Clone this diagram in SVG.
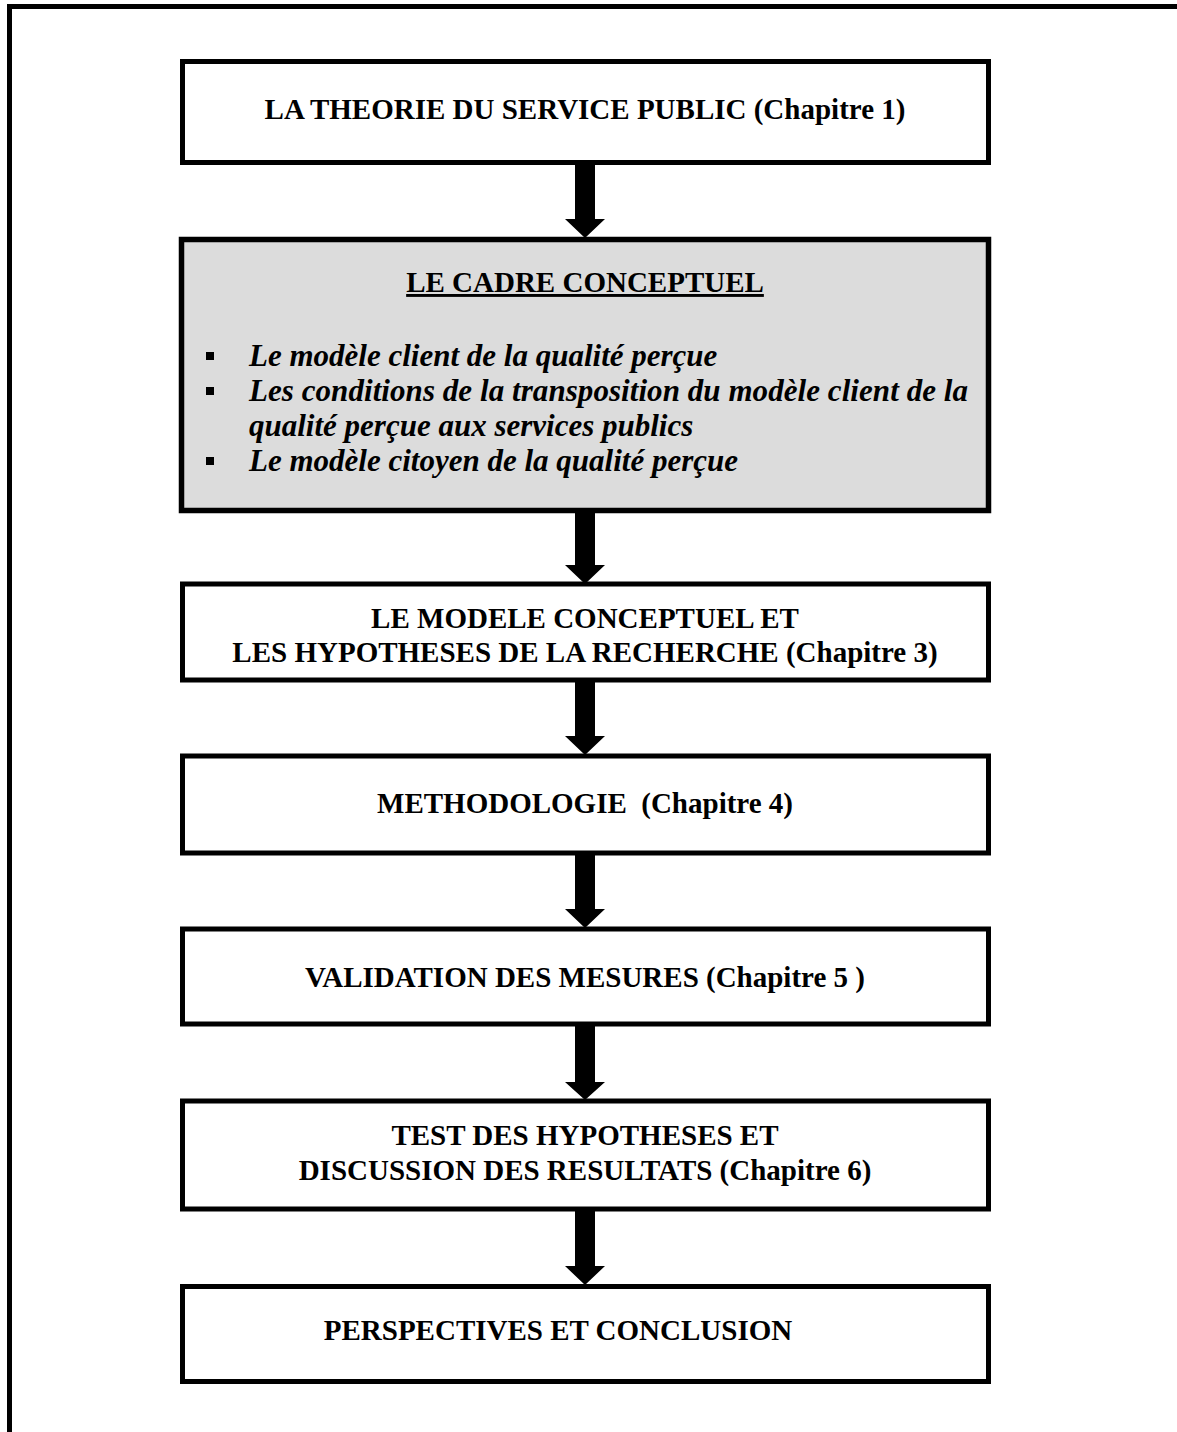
<svg xmlns="http://www.w3.org/2000/svg" width="1177" height="1432" viewBox="0 0 1177 1432">
<style>
.box{fill:#fff;stroke:#000;stroke-width:5}
.gray{fill:#dcdcdc;stroke:#000;stroke-width:5.5}
.t{font-family:"Liberation Serif","Times New Roman",serif;font-weight:bold;font-size:29px;fill:#000}
.c{text-anchor:middle}
.i{font-style:italic;font-size:31px}
.arrow{fill:#000}
.bul{fill:#000}
</style>
<rect width="1177" height="1432" fill="#fff"/>
<path d="M9.5 1432 V6.5 H1177" fill="none" stroke="#000" stroke-width="5"/>

<g id="connectors">
<path class="arrow" d="M575 165 H595 V219 H605 L585 238 L565 219 H575 Z"/>
<path class="arrow" d="M575 513 H595 V565 H605 L585 584 L565 565 H575 Z"/>
<path class="arrow" d="M575 682 H595 V736 H605 L585 755 L565 736 H575 Z"/>
<path class="arrow" d="M575 855 H595 V909 H605 L585 928 L565 909 H575 Z"/>
<path class="arrow" d="M575 1026 H595 V1082 H605 L585 1100 L565 1082 H575 Z"/>
<path class="arrow" d="M575 1211 H595 V1266 H605 L585 1285 L565 1266 H575 Z"/>
</g>

<g id="n1">
<rect class="box" x="182.5" y="61.5" width="806" height="101"/>
<text class="t c" x="585" y="119">LA THEORIE DU SERVICE PUBLIC (Chapitre 1)</text>
</g>

<g id="n2">
<rect class="gray" x="181.5" y="239.5" width="807" height="271"/>
<text class="t c" x="585" y="292" text-decoration="underline">LE CADRE CONCEPTUEL</text>
<rect class="bul" x="206" y="352" width="8" height="8"/>
<rect class="bul" x="206" y="387" width="8" height="8"/>
<rect class="bul" x="206" y="457" width="8" height="8"/>
<text class="t i" x="249" y="366">Le modèle client de la qualité perçue</text>
<text class="t i" x="249" y="401" textLength="719" lengthAdjust="spacing">Les conditions de la transposition du modèle client de la</text>
<text class="t i" x="249" y="436">qualité perçue aux services publics</text>
<text class="t i" x="249" y="471">Le modèle citoyen de la qualité perçue</text>
</g>

<g id="n3">
<rect class="box" x="182.5" y="584" width="806" height="96"/>
<text class="t c" x="585" y="628">LE MODELE CONCEPTUEL ET</text>
<text class="t c" x="585" y="662">LES HYPOTHESES DE LA RECHERCHE (Chapitre 3)</text>
</g>

<g id="n4">
<rect class="box" x="182.5" y="756" width="806" height="97"/>
<text class="t c" x="585" y="813" xml:space="preserve">METHODOLOGIE  (Chapitre 4)</text>
</g>

<g id="n5">
<rect class="box" x="182.5" y="929" width="806" height="95"/>
<text class="t c" x="585" y="987">VALIDATION DES MESURES (Chapitre 5 )</text>
</g>

<g id="n6">
<rect class="box" x="182.5" y="1101" width="806" height="108"/>
<text class="t c" x="585" y="1145">TEST DES HYPOTHESES ET</text>
<text class="t c" x="585" y="1180">DISCUSSION DES RESULTATS (Chapitre 6)</text>
</g>

<g id="n7">
<rect class="box" x="182.5" y="1286.5" width="806" height="95"/>
<text class="t c" x="558" y="1340">PERSPECTIVES ET CONCLUSION</text>
</g>
</svg>
